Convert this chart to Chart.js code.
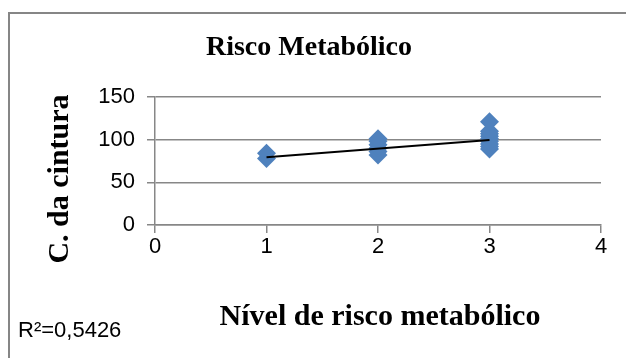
<!DOCTYPE html>
<html lang="pt">
<head>
<meta charset="UTF-8">
<title>Risco Metabólico</title>
<script src="https://cdn.jsdelivr.net/npm/chart.js"></script>
<style>
  html, body { margin: 0; padding: 0; background: #fff; }
</style>
</head>
<body>
<canvas id="riscoChart" width="626" height="358"></canvas>
<script>
// data
const nivelRisco = [1, 1, 2, 2, 2, 2, 2, 2, 3, 3, 3, 3, 3, 3, 3, 3, 3];
const cintura    = [78, 84, 82, 86, 90, 94, 98, 101, 89, 92, 95, 98, 101, 104, 107, 110, 121];
const trendX = [1, 3];
const trendY = [79.5, 99.6];
const xTicks = [0, 1, 2, 3, 4];
const yTicks = [0, 50, 100, 150];

const chartTitle = 'Risco Metabólico';
const yTitle = 'C. da cintura';
const xTitle = 'Nível de risco metabólico';
const r2Label = 'R²=0,5426';

const gridGray = '#878787';

// frame, titles and the R² note
const extras = {
    id: 'extras',
    beforeDraw(chart) {
        const ctx = chart.ctx;
        ctx.save();
        ctx.fillStyle = '#fff';
        ctx.fillRect(0, 0, chart.width, chart.height);
        ctx.strokeStyle = '#868686';
        ctx.lineWidth = 2;
        ctx.strokeRect(9, 13, 700, 400);
        ctx.restore();
    },
    afterDraw(chart) {
        const ctx = chart.ctx;
        ctx.save();
        ctx.fillStyle = '#000';
        ctx.textAlign = 'center';
        ctx.textBaseline = 'middle';
        ctx.font = 'bold 28px "Liberation Serif", "Times New Roman", serif';
        ctx.fillText(chartTitle, 309, 48);
        ctx.font = 'bold 30px "Liberation Serif", "Times New Roman", serif';
        ctx.fillText(xTitle, 380, 317);
        ctx.translate(60, 179);
        ctx.rotate(-Math.PI / 2);
        ctx.fillText(yTitle, 0, 0);
        ctx.restore();

        ctx.save();
        ctx.fillStyle = '#000';
        ctx.textAlign = 'left';
        ctx.textBaseline = 'middle';
        ctx.font = '22px "Liberation Sans", Arial, sans-serif';
        ctx.fillText(r2Label, 18, 331);
        ctx.restore();
    }
};

const ctx = document.getElementById('riscoChart').getContext('2d');
new Chart(ctx, {
    type: 'scatter',
    data: {
        datasets: [
            {
                type: 'line',
                data: trendX.map((x, i) => ({ x: x, y: trendY[i] })),
                borderColor: '#000',
                borderWidth: 2,
                pointRadius: 0,
                fill: false,
                order: 0
            },
            {
                data: nivelRisco.map((x, i) => ({ x: x, y: cintura[i] })),
                pointStyle: 'rectRot',
                pointRadius: 9.5,
                pointHoverRadius: 9.5,
                backgroundColor: '#4f81bd',
                borderColor: '#4f81bd',
                borderWidth: 0,
                order: 1
            }
        ]
    },
    options: {
        responsive: false,
        animation: false,
        devicePixelRatio: 1,
        layout: { padding: { left: 0, top: 97, right: 25, bottom: 0 } },
        plugins: {
            legend: { display: false },
            tooltip: { enabled: false }
        },
        scales: {
            x: {
                type: 'linear',
                min: xTicks[0],
                max: xTicks[xTicks.length - 1],
                afterBuildTicks: (s) => { s.ticks = xTicks.map(v => ({ value: v })); },
                afterFit: (s) => { s.height = 133; },
                grid: { drawOnChartArea: false, drawTicks: true, tickLength: 8, color: gridGray, lineWidth: 1.5 },
                border: { display: true, color: gridGray, width: 1.5 },
                ticks: { color: '#000', padding: 1, font: { family: '"Liberation Sans", Arial, sans-serif', size: 22 } }
            },
            y: {
                min: yTicks[0],
                max: yTicks[yTicks.length - 1],
                afterBuildTicks: (s) => { s.ticks = yTicks.map(v => ({ value: v })); },
                afterFit: (s) => { s.width = 155; },
                grid: { drawOnChartArea: true, drawTicks: true, tickLength: 8, color: gridGray, lineWidth: 1.5 },
                border: { display: true, color: gridGray, width: 1.5 },
                ticks: { color: '#000', padding: 12, font: { family: '"Liberation Sans", Arial, sans-serif', size: 22 } }
            }
        }
    },
    plugins: [extras]
});
</script>
</body>
</html>
